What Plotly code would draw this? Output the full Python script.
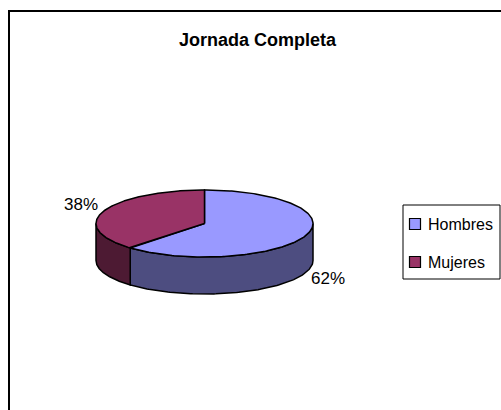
import numpy as np
import plotly.graph_objects as go

# ---- data ----
categories = ["Hombres", "Mujeres"]
values = [62, 38]
top_colors = ["#9999FF", "#993366"]
side_colors = ["#4D4D80", "#4D1A33"]
title_text = "Jornada Completa"

# ---- geometry (pixel space) ----
W, H = 501, 410
cx, cy = 204.5, 223.5
rx, ry = 108.5, 33.5
depth = 37
FONT = "Liberation Sans, Arial, sans-serif"

def pt(t_deg, dz=0.0, s=1.0):
    t = np.radians(t_deg)
    return cx + s * rx * np.sin(t), cy - s * ry * np.cos(t) + dz

total = float(sum(values))
starts, ends = [], []
acc = 0.0
for v in values:
    starts.append(acc / total * 360)
    acc += v
    ends.append(acc / total * 360)

fig = go.Figure()

# side faces (front half only: 90..270)
for i, cat in enumerate(categories):
    a, b = max(starts[i], 90), min(ends[i], 270)
    if a >= b:
        continue
    ts = np.linspace(a, b, 120)
    xt, yt = pt(ts)
    xb, yb = pt(ts[::-1], depth)
    xs = np.concatenate([xt, xb, xt[:1]])
    ys = np.concatenate([yt, yb, yt[:1]])
    fig.add_trace(go.Scatter(x=xs, y=ys, mode="lines", fill="toself",
                             fillcolor=side_colors[i],
                             line=dict(color="black", width=1.5),
                             hoverinfo="skip", showlegend=False))

# top faces
for i, cat in enumerate(categories):
    ts = np.linspace(starts[i], ends[i], 200)
    xa, ya = pt(ts)
    xs = np.concatenate([[cx], xa, [cx]])
    ys = np.concatenate([[cy], ya, [cy]])
    fig.add_trace(go.Scatter(x=xs, y=ys, mode="lines", fill="toself",
                             fillcolor=top_colors[i],
                             line=dict(color="black", width=1.5),
                             name=cat, hoverinfo="skip", showlegend=False))

# percentage labels
for i, cat in enumerate(categories):
    mid = (starts[i] + ends[i]) / 2
    lx, ly = pt(mid, s=1.22)
    if np.cos(np.radians(mid)) < 0:
        ly += depth + 3
    else:
        ly -= 4
    fig.add_annotation(x=lx, y=ly, text=f"{values[i] / total * 100:.0f}%",
                       showarrow=False, font=dict(family=FONT, size=17, color="black"))

# legend (drawn manually)
leg_x0, leg_y0, leg_x1, leg_y1 = 403, 205, 500, 279
leg_rows = [224, 262]
fig.add_shape(type="rect", x0=leg_x0, y0=leg_y0, x1=leg_x1, y1=leg_y1,
              line=dict(color="black", width=1), fillcolor="white", layer="below")
fig.add_trace(go.Scatter(x=[415] * len(categories), y=leg_rows, mode="markers",
                         marker=dict(symbol="square", size=11, color=top_colors,
                                     line=dict(color="black", width=1.2)),
                         hoverinfo="skip", showlegend=False))
for i, cat in enumerate(categories):
    fig.add_annotation(x=426, y=leg_rows[i], text=cat, showarrow=False,
                       xanchor="left", yanchor="middle",
                       font=dict(family=FONT, size=16, color="black"))

fig.add_annotation(x=257.5, y=40, text=f"<b>{title_text}</b>", showarrow=False,
                   font=dict(family=FONT, size=18, color="black"))

fig.add_shape(type="rect", x0=9, y0=11, x1=W + 20, y1=H + 20,
              line=dict(color="black", width=2), layer="below")

fig.update_layout(
    width=W, height=H, margin=dict(l=0, r=0, t=0, b=0, pad=0, autoexpand=False),
    paper_bgcolor="white", plot_bgcolor="white",
    xaxis=dict(range=[0, W], visible=False, fixedrange=True),
    yaxis=dict(range=[H, 0], visible=False, fixedrange=True),
    showlegend=False,
)

fig.write_html("out.html", config={"displayModeBar": False},
               post_script="document.body.style.margin='0';document.body.style.overflow='hidden';")
